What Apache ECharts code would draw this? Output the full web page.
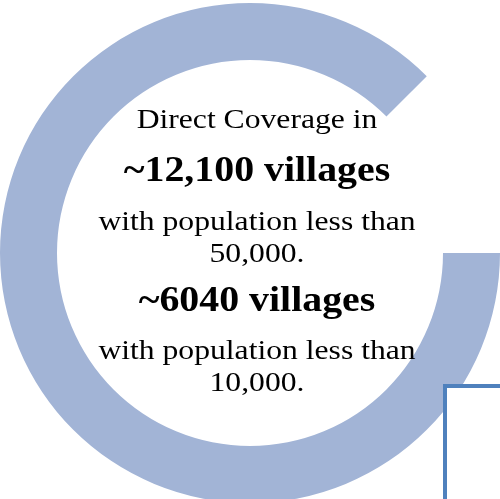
<!DOCTYPE html>
<html>
<head>
<meta charset="utf-8">
<script src="https://cdn.jsdelivr.net/npm/echarts@6/dist/echarts.min.js"></script>
<style>html,body{margin:0;padding:0;background:#fff}#c{width:500px;height:499px}</style>
</head>
<body>
<div id="c"></div>
<script>
var categories = ['Coverage', 'Gap'];
var values = [315, 45];
var textLines = [
  'Direct Coverage in',
  '~12,100 villages',
  'with population less than',
  '50,000.',
  '~6040 villages',
  'with population less than',
  '10,000.'
];
var boldLines = [false, true, false, false, true, false, false];

var chart = echarts.init(document.getElementById('c'));
var lineY = [121, 172, 223, 255, 302, 352, 384];
var graphics = [{
  type: 'rect', z: 10,
  shape: { x: 445, y: 386, width: 200, height: 200 },
  style: { fill: '#fff', stroke: '#4F81BD', lineWidth: 4 }
}];
textLines.forEach(function (t, i) {
  graphics.push({
    type: 'text', z: 20, x: 257, y: lineY[i],
    scaleX: boldLines[i] ? 1.107 : 1.13,
    style: {
      text: t, fill: '#000', align: 'center', verticalAlign: 'middle',
      font: (boldLines[i] ? 'bold 36px' : '28px') + ' "Liberation Serif", serif'
    }
  });
});
chart.setOption({
  animation: false,
  series: [{
    type: 'pie',
    center: [250, 253],
    radius: [193, 250],
    startAngle: 0,
    clockwise: true,
    silent: true,
    label: { show: false },
    labelLine: { show: false },
    emphasis: { disabled: true },
    data: categories.map(function (c, i) {
      return { name: c, value: values[i], itemStyle: { color: i === 0 ? '#A2B4D6' : 'rgba(0,0,0,0)' } };
    })
  }],
  graphic: graphics
});
</script>
</body>
</html>
